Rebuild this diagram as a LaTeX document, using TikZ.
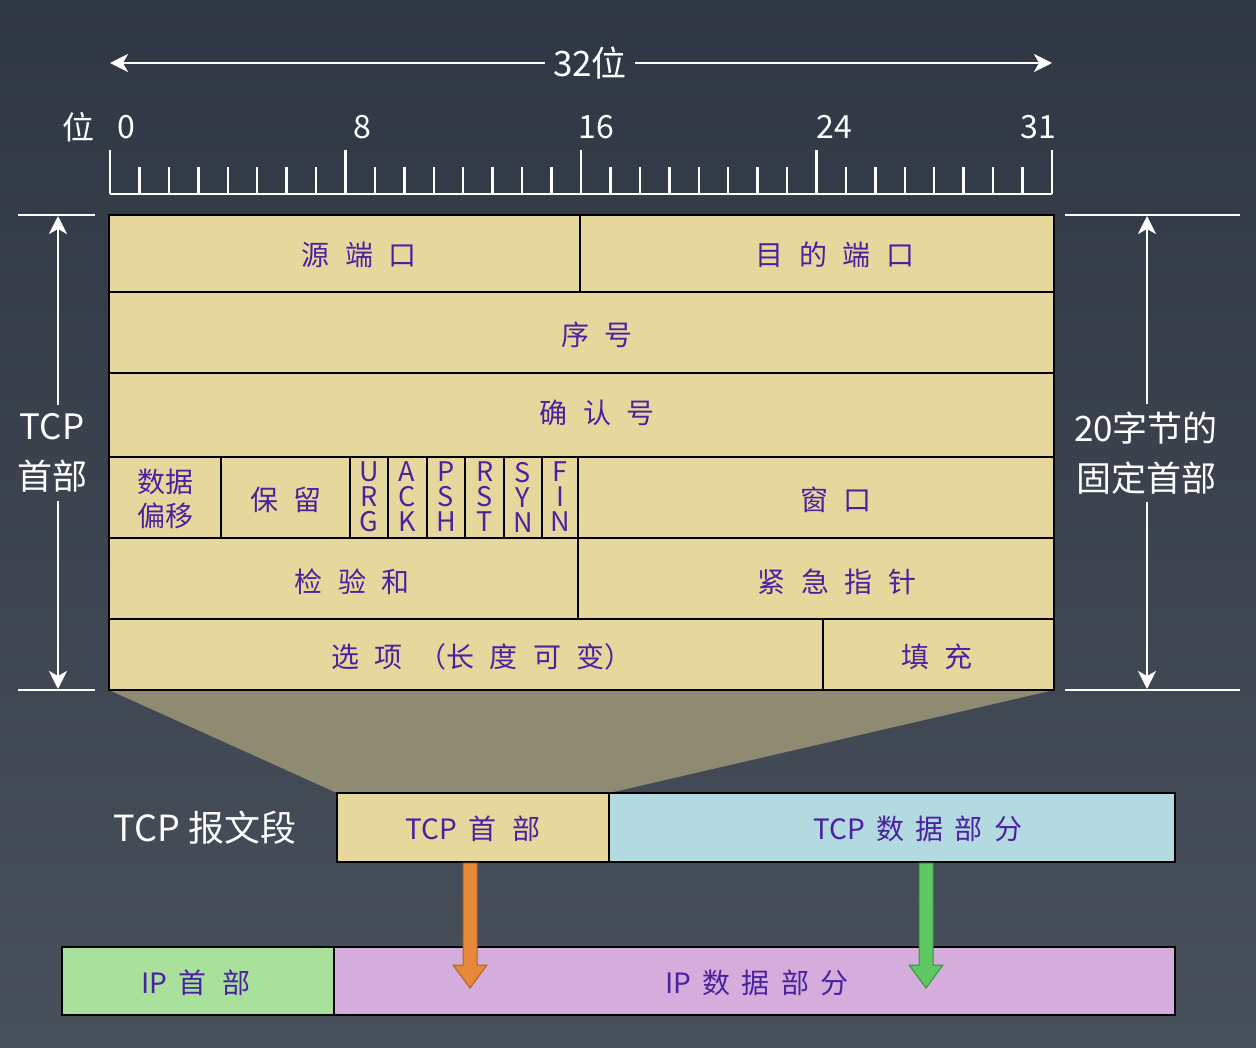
\documentclass[tikz,border=0pt]{standalone}
\usepackage{fontspec}
\newfontfamily\cjk{Noto Sans CJK SC}
\usetikzlibrary{arrows.meta}
\definecolor{bgtop}{HTML}{303744}
\definecolor{bgbot}{HTML}{48505B}
\definecolor{khaki}{HTML}{E6D89C}
\definecolor{trap}{HTML}{8F8B73}
\definecolor{lblue}{HTML}{B3D9E1}
\definecolor{lgreen}{HTML}{A9E09B}
\definecolor{lpurple}{HTML}{D5ADDC}
\definecolor{txtp}{HTML}{4A22A0}
\definecolor{orng}{HTML}{E8893A}
\definecolor{orngd}{HTML}{A8622A}
\definecolor{grn}{HTML}{5EC862}
\definecolor{grnd}{HTML}{3A8E40}
\newcommand{\gp}{\hspace{0.55em}}
\newcommand{\gq}{\hspace{0.4em}}
\tikzset{
  cellbox/.style={draw=black, line width=1.4pt, fill=khaki},
  celltxt/.style={text=txtp, inner sep=0pt, font=\cjk\fontsize{28}{32}\selectfont},
  flagtxt/.style={text=txtp, inner sep=0pt, align=center, font=\cjk\fontsize{27}{25}\selectfont},
  whitetxt/.style={text=white, inner sep=0pt, font=\cjk\fontsize{35}{48}\selectfont},
  rulerlbl/.style={text=white, inner sep=0pt, font=\cjk\fontsize{32}{36}\selectfont},
  whiteline/.style={draw=white, line width=2.6pt},
  dimarrow/.style={draw=white, line width=2.6pt, -{Stealth[length=18pt,width=18pt,inset=5pt]}},
}
\begin{document}
\begin{tikzpicture}[x=1pt,y=-1pt]
\useasboundingbox (0,0) rectangle (1256,1048);
\shade[top color=bgtop, bottom color=bgbot] (0,0) rectangle (1256,1048);

% --- 32 bit arrow
\node[whitetxt] (w32) at (590,63) {32位};
\coordinate (l32) at (110,63);
\coordinate (r32) at (1052,63);
\draw[dimarrow] ([xshift=-8pt]w32.west) -- (l32);
\draw[dimarrow] ([xshift=8pt]w32.east) -- (r32);

% --- ruler
\node[rulerlbl] (wei) at (78,127) {位};
\node[rulerlbl] (b0) at (126,127) {0};
\node[rulerlbl] (b8) at (362,127) {8};
\node[rulerlbl] (b16) at (596,127) {16};
\node[rulerlbl] (b24) at (834,127) {24};
\node[rulerlbl] (b31) at (1038,127) {31};
\draw[whiteline, line width=2.4pt] (110,194) -- (1052,194);
\foreach \i in {0,...,32}{
  \pgfmathsetmacro{\xx}{110+\i*29.4375}
  \pgfmathtruncatemacro{\md}{mod(\i,8)}
  \ifnum\md=0
    \draw[white, line width=2.4pt] (\xx,194) -- (\xx,150);
  \else
    \draw[white, line width=2.4pt] (\xx,194) -- (\xx,167);
  \fi
}

% --- trapezoid
\fill[trap] (109,690) -- (1054,690) -- (609,793) -- (337,793) -- cycle;

% --- table cells
\draw[cellbox] (109,215) rectangle (580,292);
\draw[cellbox] (580,215) rectangle (1054,292);
\draw[cellbox] (109,292) rectangle (1054,373);
\draw[cellbox] (109,373) rectangle (1054,457);
\draw[cellbox] (109,457) rectangle (221,538);
\draw[cellbox] (221,457) rectangle (350,538);
\foreach \a/\b in {350/388,388/427,427/465,465/504,504/542,542/578}{
  \draw[cellbox] (\a,457) rectangle (\b,538);
}
\draw[cellbox] (578,457) rectangle (1054,538);
\draw[cellbox] (109,538) rectangle (578,619);
\draw[cellbox] (578,538) rectangle (1054,619);
\draw[cellbox] (109,619) rectangle (823,690);
\draw[cellbox] (823,619) rectangle (1054,690);

\node[celltxt] (srcport) at (359,255) {源\gp 端\gp 口};
\node[celltxt] (dstport) at (835,255) {目\gp 的\gp 端\gp 口};
\node[celltxt] (seq) at (597,335) {序\gp 号};
\node[celltxt] (ack) at (597,413) {确\gp 认\gp 号};
\node[celltxt, align=center, font=\cjk\fontsize{28}{34}\selectfont] (offset) at (165,499) {数据\\偏移};
\node[celltxt] (rsv) at (286,500) {保\gp 留};
\node[flagtxt] (urg) at (369,497) {U\\R\\G};
\node[flagtxt] (fack) at (407,497) {A\\C\\K};
\node[flagtxt] (psh) at (446,497) {P\\S\\H};
\node[flagtxt] (rst) at (485,497) {R\\S\\T};
\node[flagtxt] (syn) at (523,497) {S\\Y\\N};
\node[flagtxt] (fin) at (560,497) {F\\I\\N};
\node[celltxt] (win) at (836,500) {窗\gp 口};
\node[celltxt] (chk) at (352,582) {检\gp 验\gp 和};
\node[celltxt] (urgp) at (837,582) {紧\gp 急\gp 指\gp 针};
\node[celltxt] (opt) at (482,657) {选\gp 项\gp （长\gp 度\gp 可\gp 变）};
\node[celltxt] (pad) at (937,657) {填\gp 充};

% --- left dimension
\draw[whiteline] (18,215) -- (95,215);
\draw[whiteline] (18,690) -- (95,690);
\node[whitetxt, align=center, font=\cjk\fontsize{35}{50}\selectfont] (tcphdr) at (52,453) {TCP\\首部};
\coordinate (lt) at (58,216);
\coordinate (lb) at (58,689);
\draw[dimarrow] ([yshift=8pt]tcphdr.north -| lt) -- (lt);
\draw[dimarrow] ([yshift=-8pt]tcphdr.south -| lb) -- (lb);

% --- right dimension
\draw[whiteline] (1065,215) -- (1240,215);
\draw[whiteline] (1065,690) -- (1240,690);
\node[whitetxt, align=center, font=\cjk\fontsize{35}{50}\selectfont] (fixed) at (1146,453) {20字节的\\固定首部};
\coordinate (rt) at (1147,216);
\coordinate (rb) at (1147,689);
\draw[dimarrow] ([yshift=8pt]fixed.north -| rt) -- (rt);
\draw[dimarrow] ([yshift=-8pt]fixed.south -| rb) -- (rb);

% --- TCP segment
\node[whitetxt, font=\cjk\fontsize{36}{40}\selectfont] (seglbl) at (205,828) {TCP 报文段};
\draw[cellbox] (337,793) rectangle (609,862);
\draw[cellbox, fill=lblue] (609,793) rectangle (1175,862);
\node[celltxt] (tcph) at (473,829) {TCP\gq 首\gp 部};
\node[celltxt] (tcpd) at (918,829) {TCP\gq 数\gq 据\gq 部\gq 分};

% --- IP datagram
\draw[cellbox, fill=lgreen] (62,947) rectangle (334,1015);
\draw[cellbox, fill=lpurple] (334,947) rectangle (1175,1015);
\node[celltxt] (iph) at (196,983) {IP\gq 首\gp 部};
\node[celltxt] (ipd) at (757,983) {IP\gq 数\gq 据\gq 部\gq 分};

% --- block arrows
\draw[fill=orng, draw=orngd, line width=1pt] (463,863) -- (477,863) -- (477,965) -- (487,965) -- (470,988) -- (453,965) -- (463,965) -- cycle;
\draw[fill=grn, draw=grnd, line width=1pt] (919,863) -- (933,863) -- (933,965) -- (943,965) -- (926,988) -- (909,965) -- (919,965) -- cycle;
\end{tikzpicture}
\end{document}
